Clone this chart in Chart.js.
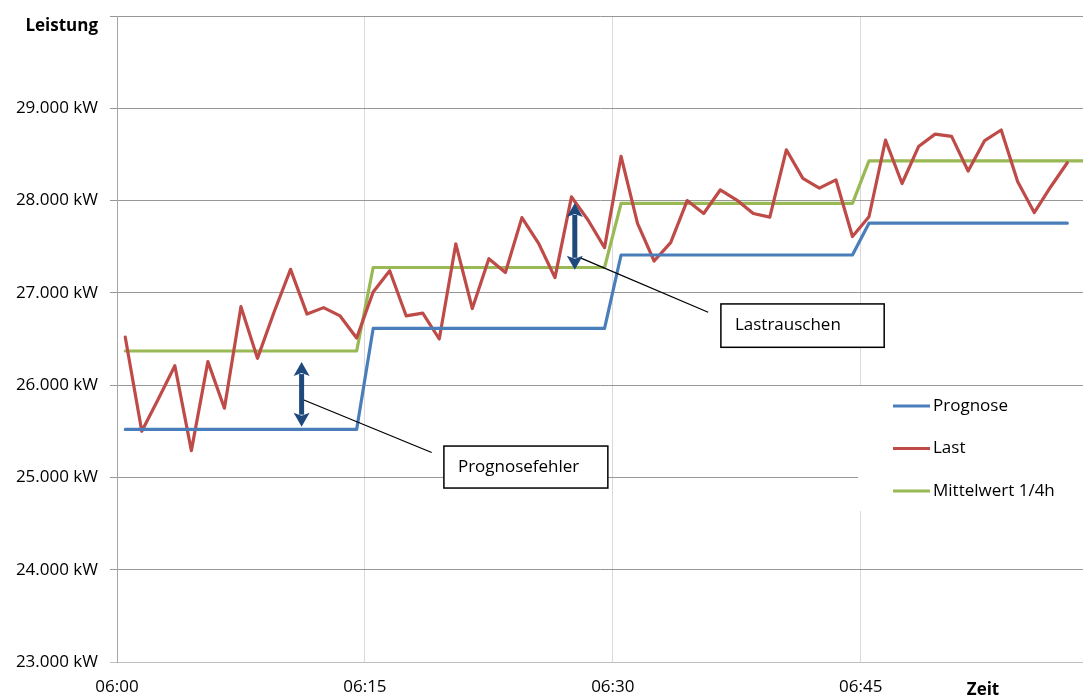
<!DOCTYPE html>
<html>
<head>
<meta charset="utf-8">
<script src="https://cdn.jsdelivr.net/npm/chart.js@4.4.0/dist/chart.umd.min.js"></script>
<style>
    html, body { margin: 0; padding: 0; background: #fff; overflow: hidden; }
    canvas { display: block; }
</style>
</head>
<body>
<canvas id="Lastverlauf" width="1083" height="698"></canvas>
<script>
// ein Wert pro Minute ab 06:00
const prognose = [
    25520, 25520, 25520, 25520, 25520, 25520, 25520, 25520, 25520, 25520, 25520, 25520, 25520, 25520, 25520,
    26615, 26615, 26615, 26615, 26615, 26615, 26615, 26615, 26615, 26615, 26615, 26615, 26615, 26615, 26615,
    27410, 27410, 27410, 27410, 27410, 27410, 27410, 27410, 27410, 27410, 27410, 27410, 27410, 27410, 27410,
    27755, 27755, 27755, 27755, 27755, 27755, 27755, 27755, 27755, 27755, 27755, 27755, 27755
];
const last = [
    26520, 25500, 25850, 26210, 25290, 26255, 25750, 26850, 26290, 26790,
    27255, 26770, 26840, 26750, 26510, 27010, 27240, 26750, 26780, 26500,
    27530, 26830, 27370, 27220, 27815, 27540, 27165, 28040, 27790, 27490,
    28480, 27750, 27345, 27545, 28000, 27860, 28115, 28005, 27860, 27820,
    28550, 28240, 28135, 28225, 27610, 27825, 28655, 28185, 28585, 28720,
    28695, 28320, 28650, 28765, 28205, 27870, 28150, 28410
];
const mittelwert = [
    26370, 26370, 26370, 26370, 26370, 26370, 26370, 26370, 26370, 26370, 26370, 26370, 26370, 26370, 26370,
    27275, 27275, 27275, 27275, 27275, 27275, 27275, 27275, 27275, 27275, 27275, 27275, 27275, 27275, 27275,
    27970, 27970, 27970, 27970, 27970, 27970, 27970, 27970, 27970, 27970, 27970, 27970, 27970, 27970, 27970,
    28430, 28430, 28430, 28430, 28430, 28430, 28430, 28430, 28430, 28430, 28430, 28430, 28430, 28430
];
const zeitTicks = [0, 15, 30, 45];
const leistungTicks = [23000, 24000, 25000, 26000, 27000, 28000, 29000, 30000];

// Anmerkungen in Datenkoordinaten (Minute, kW)
const pfeile = [
    { x: 11.17, von: 25550, bis: 26250 },
    { x: 27.7, von: 27250, bis: 27975 }
];
const hinweise = [
    { text: "Prognosefehler", von: [11.16, 25850], nach: [19.04, 25270], box: [19.78, 25340, 29.7, 24885] },
    { text: "Lastrauschen", von: [27.97, 27385], nach: [35.77, 26790], box: [36.54, 26880, 46.42, 26410] }
];

const schrift = "'Open Sans', 'DejaVu Sans', sans-serif";

function punkte(werte) {
    return werte.map((w, i) => ({ x: i + 0.5, y: w }));
}

function tausender(v) {
    return String(v).replace(/\B(?=(\d{3})+(?!\d))/g, ".") + " kW";
}

function doppelpfeil(ctx, x, yOben, yUnten) {
    const kopf = 14, halb = 8;
    ctx.strokeStyle = "#1F497D";
    ctx.fillStyle = "#1F497D";
    ctx.lineWidth = 5;
    ctx.beginPath();
    ctx.moveTo(x, yOben + kopf - 2);
    ctx.lineTo(x, yUnten - kopf + 2);
    ctx.stroke();
    ctx.beginPath();
    ctx.moveTo(x, yOben);
    ctx.lineTo(x - halb, yOben + kopf);
    ctx.lineTo(x, yOben + kopf - 3);
    ctx.lineTo(x + halb, yOben + kopf);
    ctx.closePath();
    ctx.fill();
    ctx.beginPath();
    ctx.moveTo(x, yUnten);
    ctx.lineTo(x - halb, yUnten - kopf);
    ctx.lineTo(x, yUnten - kopf + 3);
    ctx.lineTo(x + halb, yUnten - kopf);
    ctx.closePath();
    ctx.fill();
}

const extras = {
    id: "extras",
    beforeDatasetsDraw(chart) {
        // Legende mit weißem Hintergrund über den Gitterlinien
        const { ctx, chartArea } = chart;
        const links = chartArea.right - 225;
        ctx.save();
        ctx.fillStyle = "#fff";
        ctx.fillRect(links, 386, 230, 125);
        ctx.font = "17px " + schrift;
        ctx.textBaseline = "middle";
        ctx.textAlign = "left";
        chart.data.datasets.forEach((ds, i) => {
            const y = 406 + i * 42.5;
            ctx.strokeStyle = ds.borderColor;
            ctx.lineWidth = 3.2;
            ctx.beginPath();
            ctx.moveTo(links + 35, y);
            ctx.lineTo(links + 72, y);
            ctx.stroke();
            ctx.fillStyle = "#000";
            ctx.fillText(ds.label, links + 75, y);
        });
        ctx.restore();
    },
    afterDatasetsDraw(chart) {
        const { ctx, chartArea, scales } = chart;
        const px = (v) => scales.x.getPixelForValue(v);
        const py = (v) => scales.y.getPixelForValue(v);
        ctx.save();

        hinweise.forEach((h) => {
            ctx.strokeStyle = "#000";
            ctx.lineWidth = 1.3;
            ctx.beginPath();
            ctx.moveTo(px(h.von[0]), py(h.von[1]));
            ctx.lineTo(px(h.nach[0]), py(h.nach[1]));
            ctx.stroke();
        });

        pfeile.forEach((p) => doppelpfeil(ctx, px(p.x), py(p.bis), py(p.von)));

        hinweise.forEach((h) => {
            const x1 = px(h.box[0]), y1 = py(h.box[1]);
            const x2 = px(h.box[2]), y2 = py(h.box[3]);
            ctx.fillStyle = "#fff";
            ctx.fillRect(x1, y1, x2 - x1, y2 - y1);
            ctx.strokeStyle = "#000";
            ctx.lineWidth = 1.5;
            ctx.strokeRect(x1, y1, x2 - x1, y2 - y1);
            ctx.fillStyle = "#000";
            ctx.font = "17px " + schrift;
            ctx.textAlign = "left";
            ctx.textBaseline = "middle";
            ctx.fillText(h.text, x1 + 14, (y1 + y2) / 2);
        });

        // Achsentitel
        ctx.fillStyle = "#000";
        ctx.font = "bold 17px " + schrift;
        ctx.textAlign = "right";
        ctx.textBaseline = "middle";
        ctx.fillText("Leistung", chartArea.left - 19, 26);
        ctx.textAlign = "center";
        ctx.fillText("Zeit", px(52.4), chartArea.bottom + 28);
        ctx.restore();
    }
};

new Chart(document.getElementById("Lastverlauf"), {
    type: "line",
    data: {
        datasets: [
            { label: "Prognose", data: punkte(prognose), borderColor: "#4A7EBB" },
            { label: "Last", data: punkte(last), borderColor: "#BE4B48" },
            { label: "Mittelwert 1/4h", data: punkte(mittelwert), borderColor: "#98B954" }
        ]
    },
    options: {
        responsive: false,
        animation: false,
        devicePixelRatio: 1,
        layout: { padding: { top: 16, left: 0, right: 0, bottom: 0 } },
        elements: {
            line: { borderWidth: 3.2, tension: 0, borderCapStyle: "round", borderJoinStyle: "round" },
            point: { radius: 0 }
        },
        plugins: {
            legend: { display: false },
            tooltip: { enabled: false }
        },
        scales: {
            x: {
                type: "linear",
                min: 0,
                max: 58.45,
                afterBuildTicks: (s) => { s.ticks = zeitTicks.map((v) => ({ value: v })); },
                afterFit: (s) => { s.height = 36; },
                grid: {
                    color: (c) => (c.tick && c.tick.value === 0 ? "rgba(0,0,0,0)" : "#d9d9d9"),
                    drawTicks: false
                },
                border: { color: "#bfbfbf" },
                ticks: {
                    padding: 15,
                    color: "#000",
                    font: { family: schrift, size: 17 },
                    maxRotation: 0,
                    callback: (v) => "06:" + String(v).padStart(2, "0")
                }
            },
            y: {
                min: 23000,
                max: 30000,
                afterBuildTicks: (s) => { s.ticks = leistungTicks.map((v) => ({ value: v })); },
                afterFit: (s) => { s.width = 117; s.paddingTop = 0; s.paddingBottom = 0; },
                grid: {
                    color: (c) => (c.tick && c.tick.value === 23000 ? "#bfbfbf" : "#979797"),
                    tickLength: 7
                },
                border: { color: "#a6a6a6" },
                ticks: {
                    padding: 12,
                    color: "#000",
                    font: { family: schrift, size: 17 },
                    callback: (v) => (v === 30000 ? "" : tausender(v))
                }
            }
        }
    },
    plugins: [extras]
});
</script>
</body>
</html>
